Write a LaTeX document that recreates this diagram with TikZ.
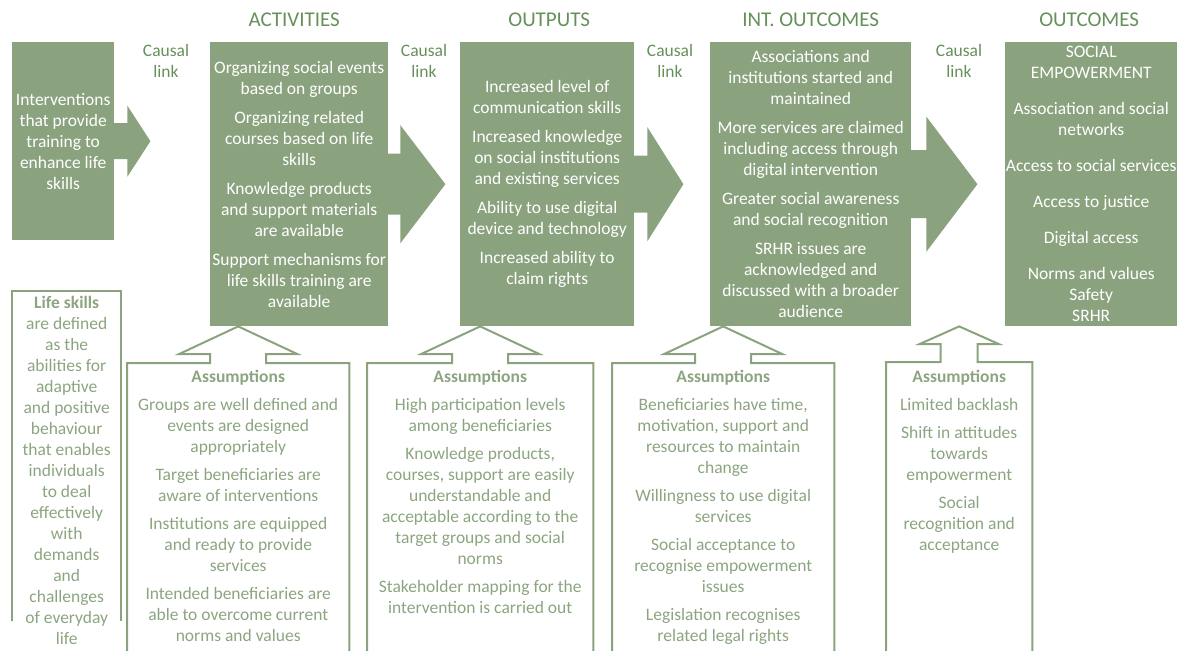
\documentclass[tikz,border=0pt]{standalone}
\usepackage{fontspec}
\setmainfont{Carlito}
\usetikzlibrary{positioning, calc}
\definecolor{Sage}{HTML}{8AA37E}
\definecolor{SageDark}{HTML}{66905A}
\definecolor{SageText}{HTML}{8CA47F}
\tikzset{
    % one pixel of the layout is one pt
    base_width/.style={line width=2pt},
    body_font/.style={font=\fontsize{17.5}{21}\selectfont},
    % filled blocks of the results chain
    chain_block/.style={
        rectangle,
        fill=Sage,
        text=white,
        inner sep=0pt,
        minimum height=284pt,
        align=center,
        body_font,
        anchor=north west
    },
    stage_title/.style={
        text=SageDark,
        inner sep=0pt,
        font=\fontsize{21}{25}\selectfont
    },
    causal_label/.style={
        text=SageDark,
        inner sep=0pt,
        align=center,
        body_font
    },
    % open frames under the chain (bottom runs off the page)
    frame_area/.style={
        rectangle,
        inner sep=0pt,
        minimum height=330pt,
        anchor=north west
    },
    frame_line/.style={
        draw=Sage,
        base_width
    },
    frame_text/.style={
        text=SageText,
        inner sep=0pt,
        align=center,
        body_font,
        anchor=north
    }
}
\begin{document}
\begin{tikzpicture}[x=1pt, y=-1pt]

    \clip (0,0) rectangle (1182,650);

    % --- CHAIN BLOCKS ---
    \node[chain_block, minimum width=102pt, minimum height=198pt] (interv) at (12,42)
        {Interventions\\that provide\\training to\\enhance life\\skills};
    \node[chain_block, minimum width=178pt] (act) at (210,42)
        {Organizing social events\\based on groups\\[8pt]
         Organizing related\\courses based on life\\skills\\[8pt]
         Knowledge products\\and support materials\\are available\\[8pt]
         Support mechanisms for\\life skills training are\\available};
    \node[chain_block, minimum width=174pt] (outp) at (460,42)
        {Increased level of\\communication skills\\[8pt]
         Increased knowledge\\on social institutions\\and existing services\\[8pt]
         Ability to use digital\\device and technology\\[8pt]
         Increased ability to\\claim rights};
    \node[chain_block, minimum width=201pt] (intout) at (710,42)
        {Associations and\\institutions started and\\maintained\\[8pt]
         More services are claimed\\including access through\\digital intervention\\[8pt]
         Greater social awareness\\and social recognition\\[8pt]
         SRHR issues are\\acknowledged and\\discussed with a broader\\audience};
    \node[chain_block, minimum width=172pt] (outc) at (1005,42)
        {SOCIAL\\EMPOWERMENT\\[15pt]
         Association and social\\networks\\[15pt]
         Access to social services\\[15pt]
         Access to justice\\[15pt]
         Digital access\\[15pt]
         Norms and values\\Safety\\SRHR};

    % --- TITLES ---
    \node[stage_title, above=15pt of act, xshift=-5pt] (t_act) {ACTIVITIES};
    \node[stage_title, above=15pt of outp, xshift=2pt] (t_outp) {OUTPUTS};
    \node[stage_title, above=15pt of intout] (t_intout) {INT. OUTCOMES};
    \node[stage_title, above=15pt of outc, xshift=-2pt] (t_outc) {OUTCOMES};

    % --- CAUSAL LINKS ---
    \node[causal_label] (cl1) at (166,61) {Causal\\link};
    \node[causal_label] (cl2) at (424,61) {Causal\\link};
    \node[causal_label] (cl3) at (670,61) {Causal\\link};
    \node[causal_label] (cl4) at (959,61) {Causal\\link};

    % --- BLOCK ARROWS ---
    \fill[Sage] ($(interv.east)+(-1,-18)$) -- ($(interv.east)+(13,-18)$) -- ($(interv.east)+(13,-35.5)$)
        -- ($(interv.east)+(36,0)$) -- ($(interv.east)+(13,35.5)$) -- ($(interv.east)+(13,18)$)
        -- ($(interv.east)+(-1,18)$) -- cycle;
    \fill[Sage] ($(act.east)+(-1,-30.5)$) -- ($(act.east)+(12,-30.5)$) -- ($(act.east)+(12,-59)$)
        -- ($(act.east)+(57,0)$) -- ($(act.east)+(12,59)$) -- ($(act.east)+(12,30.5)$)
        -- ($(act.east)+(-1,30.5)$) -- cycle;
    \fill[Sage] ($(outp.east)+(-1,-28.5)$) -- ($(outp.east)+(13,-28.5)$) -- ($(outp.east)+(13,-57)$)
        -- ($(outp.east)+(49,0)$) -- ($(outp.east)+(13,57)$) -- ($(outp.east)+(13,28.5)$)
        -- ($(outp.east)+(-1,28.5)$) -- cycle;
    \fill[Sage] ($(intout.east)+(-1,-34)$) -- ($(intout.east)+(15,-34)$) -- ($(intout.east)+(15,-67.5)$)
        -- ($(intout.east)+(66,0)$) -- ($(intout.east)+(15,67.5)$) -- ($(intout.east)+(15,34)$)
        -- ($(intout.east)+(-1,34)$) -- cycle;

    % --- LIFE SKILLS NOTE ---
    \node[frame_area, minimum width=109pt] (lifebox) at (12,291) {};
    \draw[frame_line] (lifebox.south west) -- (lifebox.north west) -- (lifebox.north east) -- (lifebox.south east);
    \node[frame_text] (lifetext) at ($(lifebox.north)+(0,5)$)
        {\textbf{Life skills}\\are defined\\as the\\abilities for\\adaptive\\and positive\\behaviour\\that enables\\individuals\\to deal\\effectively\\with\\demands\\and\\challenges\\of everyday\\life};

    % --- ASSUMPTIONS ---
    \node[frame_area, minimum width=222pt] (as1) at (127,363) {};
    \node[frame_area, minimum width=226pt] (as2) at (367,363) {};
    \node[frame_area, minimum width=222pt] (as3) at (612,363) {};
    \node[frame_area, minimum width=146pt] (as4) at (886,362) {};

    \draw[frame_line] (as1.south west) -- (as1.north west) -- ($(as1.north)+(-28,0)$) -- ($(as1.north)+(-28,-9)$)
        -- ($(as1.north)+(-59,-9)$) -- (as1.north |- act.south) -- ($(as1.north)+(59,-9)$)
        -- ($(as1.north)+(28,-9)$) -- ($(as1.north)+(28,0)$) -- (as1.north east) -- (as1.south east);
    \draw[frame_line] (as2.south west) -- (as2.north west) -- ($(as2.north)+(-28,0)$) -- ($(as2.north)+(-28,-9)$)
        -- ($(as2.north)+(-59,-9)$) -- (as2.north |- outp.south) -- ($(as2.north)+(59,-9)$)
        -- ($(as2.north)+(28,-9)$) -- ($(as2.north)+(28,0)$) -- (as2.north east) -- (as2.south east);
    \draw[frame_line] (as3.south west) -- (as3.north west) -- ($(as3.north)+(-28,0)$) -- ($(as3.north)+(-28,-9)$)
        -- ($(as3.north)+(-59,-9)$) -- (as3.north |- intout.south) -- ($(as3.north)+(59,-9)$)
        -- ($(as3.north)+(28,-9)$) -- ($(as3.north)+(28,0)$) -- (as3.north east) -- (as3.south east);
    \draw[frame_line] (as4.south west) -- (as4.north west) -- ($(as4.north)+(-18.5,0)$) -- ($(as4.north)+(-18.5,-18)$)
        -- ($(as4.north)+(-39.5,-18)$) -- (as4.north |- intout.south) -- ($(as4.north)+(39.5,-18)$)
        -- ($(as4.north)+(18.5,-18)$) -- ($(as4.north)+(18.5,0)$) -- (as4.north east) -- (as4.south east);

    \node[frame_text] (as1text) at ($(as1.north)+(0,7)$)
        {\textbf{Assumptions}\\[7pt]
         Groups are well defined and\\events are designed\\appropriately\\[7pt]
         Target beneficiaries are\\aware of interventions\\[7pt]
         Institutions are equipped\\and ready to provide\\services\\[7pt]
         Intended beneficiaries are\\able to overcome current\\norms and values};
    \node[frame_text] (as2text) at ($(as2.north)+(0,7)$)
        {\textbf{Assumptions}\\[7pt]
         High participation levels\\among beneficiaries\\[7pt]
         Knowledge products,\\courses, support are easily\\understandable and\\acceptable according to the\\target groups and social\\norms\\[7pt]
         Stakeholder mapping for the\\intervention is carried out};
    \node[frame_text] (as3text) at ($(as3.north)+(0,7)$)
        {\textbf{Assumptions}\\[7pt]
         Beneficiaries have time,\\motivation, support and\\resources to maintain\\change\\[7pt]
         Willingness to use digital\\services\\[7pt]
         Social acceptance to\\recognise empowerment\\issues\\[7pt]
         Legislation recognises\\related legal rights};
    \node[frame_text] (as4text) at ($(as4.north)+(0,8)$)
        {\textbf{Assumptions}\\[7pt]
         Limited backlash\\[7pt]
         Shift in attitudes\\towards\\empowerment\\[7pt]
         Social\\recognition and\\acceptance};

\end{tikzpicture}
\end{document}
